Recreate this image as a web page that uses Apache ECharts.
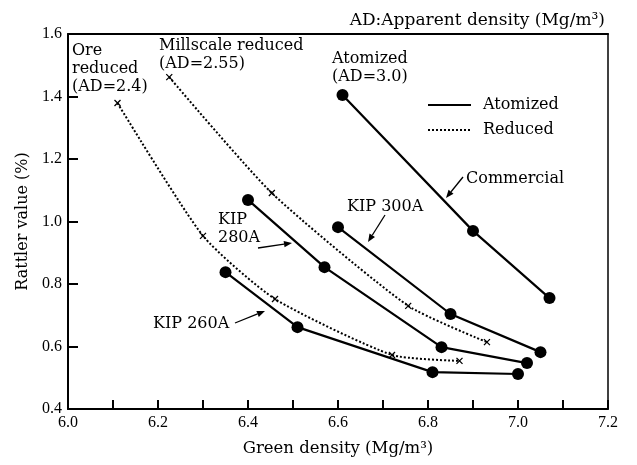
<!DOCTYPE html>
<html>
<head>
<meta charset="utf-8">
<script src="https://cdn.jsdelivr.net/npm/echarts@6/dist/echarts.min.js"></script>
<style>html,body{margin:0;padding:0;background:#fff}#c{width:637px;height:465px}</style>
</head>
<body>
<div id="c"></div>
<script>
// Data
var xTicks = [6.0, 6.2, 6.4, 6.6, 6.8, 7.0, 7.2];
var yTicks = [0.4, 0.6, 0.8, 1.0, 1.2, 1.4, 1.6];

var commercialX = [6.61, 6.90, 7.07];
var commercialY = [1.405, 0.97, 0.755];

var kip300X = [6.60, 6.85, 7.05];
var kip300Y = [0.982, 0.704, 0.582];

var kip280X = [6.40, 6.57, 6.83, 7.02];
var kip280Y = [1.069, 0.854, 0.598, 0.547];

var kip260X = [6.35, 6.51, 6.81, 7.00];
var kip260Y = [0.838, 0.662, 0.518, 0.512];

var oreX = [6.11, 6.30, 6.46, 6.72, 6.87];
var oreY = [1.379, 0.954, 0.752, 0.573, 0.554];

var millX = [6.225, 6.453, 6.756, 6.931];
var millY = [1.462, 1.091, 0.730, 0.614];

function pairs(xs, ys) { return xs.map(function (x, i) { return [x, ys[i]]; }); }

var SERIF = 'DejaVu Serif';
var chart = echarts.init(document.getElementById('c'), null, {renderer: 'canvas'});

function atomized(xs, ys) {
  return {
    name: 'Atomized', type: 'line', data: pairs(xs, ys),
    symbol: 'circle', symbolSize: 12, showSymbol: true,
    lineStyle: {color: '#000', width: 2.2, type: 'solid'},
    itemStyle: {color: '#000'}, z: 3, animation: false
  };
}
function reduced(xs, ys) {
  return {
    name: 'Reduced', type: 'line', data: pairs(xs, ys), smooth: 0.2,
    symbol: 'path://M0,0L10,10M10,0L0,10', symbolSize: 6,
    lineStyle: {color: '#000', width: 2, type: [2, 2]},
    itemStyle: {color: 'transparent', borderColor: '#000', borderWidth: 1.3},
    z: 2, animation: false
  };
}

function arrow(tail, head) {
  var dx = head[0] - tail[0], dy = head[1] - tail[1];
  var L = Math.sqrt(dx * dx + dy * dy), ux = dx / L, uy = dy / L;
  var hl = 8, hw = 3.2;
  var bx = head[0] - ux * hl, by = head[1] - uy * hl;
  return [
    {type: 'line', shape: {x1: tail[0], y1: tail[1], x2: bx, y2: by}, style: {stroke: '#000', lineWidth: 1.3}},
    {type: 'polygon', shape: {points: [head, [bx - uy * hw, by + ux * hw], [bx + uy * hw, by - ux * hw]]}, style: {fill: '#000'}}
  ];
}
function txt(x, y, s, size, align) {
  return {type: 'text', x: x, y: y, style: {text: s, font: (size || 16) + 'px "' + SERIF + '"', fill: '#000', textAlign: align || 'left', textVerticalAlign: 'top', lineHeight: 18}};
}

var graphics = [
  txt(72, 42, 'Ore\nreduced\n(AD=2.4)'),
  txt(159, 37, 'Millscale reduced\n(AD=2.55)'),
  txt(332, 50, 'Atomized\n(AD=3.0)'),
  txt(466, 170, 'Commercial'),
  txt(347, 198, 'KIP 300A'),
  txt(218, 211, 'KIP\n280A'),
  txt(153, 315, 'KIP 260A'),
  txt(605, 12, 'AD:Apparent density (Mg/m³)', 17, 'right')
].concat(arrow([463, 177], [446, 198]))
 .concat(arrow([385, 215], [368, 242]))
 .concat(arrow([258, 248], [292, 243]))
 .concat(arrow([235, 323], [265, 311]));

chart.setOption({
  animation: false,
  backgroundColor: '#fff',
  grid: {left: 68, right: 29, top: 34, bottom: 56},
  legend: {
    data: ['Atomized', 'Reduced'], orient: 'vertical', left: 422, top: 92,
    itemWidth: 43, itemHeight: 12, itemGap: 9,
    itemStyle: {opacity: 0},
    textStyle: {fontFamily: SERIF, fontSize: 16, color: '#000', padding: [0, 0, 0, 7]}
  },
  xAxis: [{
    type: 'value', min: 6.0, max: 7.2, interval: 0.2,
    name: 'Green density (Mg/m³)', nameLocation: 'middle', nameGap: 31,
    nameTextStyle: {fontFamily: SERIF, fontSize: 16.5, color: '#000'},
    axisLine: {lineStyle: {color: '#000', width: 2}},
    axisTick: {inside: true, length: 9, lineStyle: {color: '#000', width: 2}},
    minorTick: {show: true, splitNumber: 2, length: 9, lineStyle: {color: '#000', width: 2}},
    splitLine: {show: false},
    axisLabel: {margin: 6, fontFamily: 'Liberation Serif', fontSize: 16, color: '#000',
      formatter: function (v) { return v.toFixed(1); }}
  }, {
    type: 'value', min: 6.0, max: 7.2, position: 'top',
    axisLine: {show: true, lineStyle: {color: '#000', width: 2}},
    axisTick: {show: false}, axisLabel: {show: false}, splitLine: {show: false}
  }],
  yAxis: [{
    type: 'value', min: 0.4, max: 1.6, interval: 0.2,
    name: 'Rattler value (%)', nameLocation: 'middle', nameGap: 36, nameRotate: 90,
    nameTextStyle: {fontFamily: SERIF, fontSize: 16, color: '#000'},
    axisLine: {lineStyle: {color: '#000', width: 2}},
    axisTick: {inside: true, length: 10, lineStyle: {color: '#000', width: 2}},
    splitLine: {show: false},
    axisLabel: {margin: 6, fontFamily: 'Liberation Serif', fontSize: 16, color: '#000',
      formatter: function (v) { return v.toFixed(1); }}
  }, {
    type: 'value', min: 0.4, max: 1.6, position: 'right',
    axisLine: {show: true, lineStyle: {color: '#000', width: 1.5}},
    axisTick: {show: false}, axisLabel: {show: false}, splitLine: {show: false}
  }],
  series: [
    atomized(commercialX, commercialY),
    atomized(kip300X, kip300Y),
    atomized(kip280X, kip280Y),
    atomized(kip260X, kip260Y),
    reduced(oreX, oreY),
    reduced(millX, millY)
  ],
  graphic: graphics
});
</script>
</body>
</html>
